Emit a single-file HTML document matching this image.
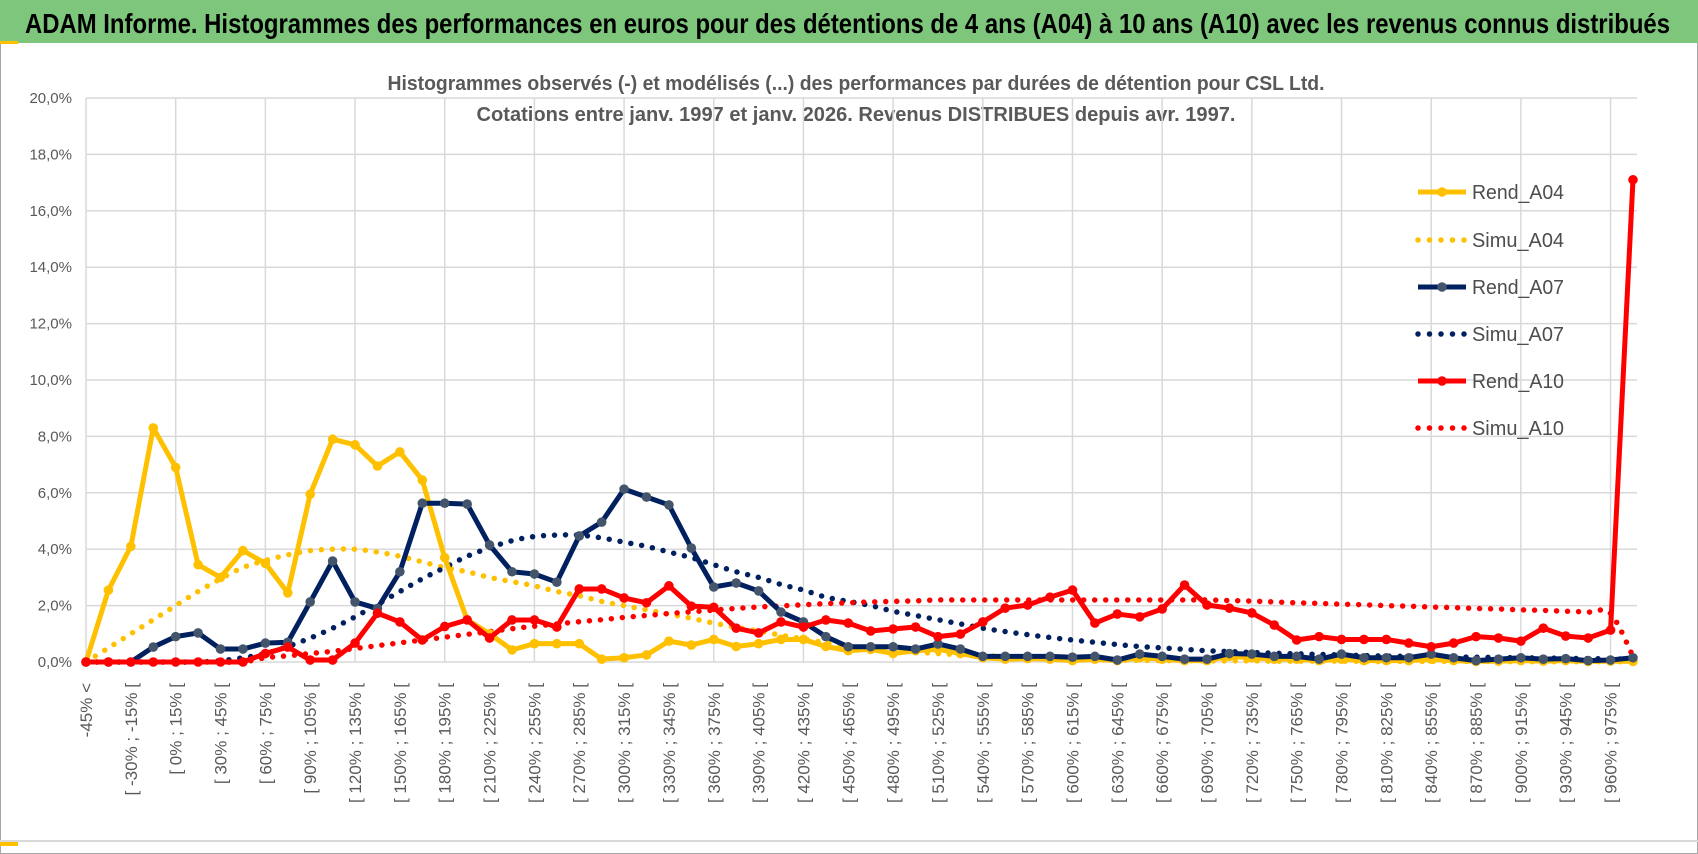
<!DOCTYPE html>
<html><head><meta charset="utf-8">
<style>
html,body{margin:0;padding:0;background:#fff;}
svg{display:block;font-family:"Liberation Sans",sans-serif;}
</style></head>
<body>
<svg id="chart" width="1698" height="854" viewBox="0 0 1698 854" xmlns="http://www.w3.org/2000/svg">
  <rect x="0" y="0" width="1698" height="854" fill="#fff"/>
  <rect x="0.5" y="0.5" width="1697" height="853" fill="none" stroke="#a6a6a6"/>
  <rect x="0" y="0" width="1698" height="43" fill="#7dc67c"/>
  <rect x="0" y="41" width="18" height="3" fill="#ffc000"/>
  <text x="25" y="33" font-size="28" font-weight="bold" fill="#000" textLength="1645" lengthAdjust="spacingAndGlyphs">ADAM Informe. Histogrammes des performances en euros pour des détentions de 4 ans (A04) à 10 ans (A10) avec les revenus connus distribués</text>
  <line x1="0" y1="841" x2="1698" y2="841" stroke="#d9d9d9" stroke-width="2"/>
  <rect x="0" y="842" width="18" height="4" fill="#ffc000"/>
  <text x="856" y="90" font-size="20" font-weight="bold" fill="#595959" text-anchor="middle" textLength="937" lengthAdjust="spacingAndGlyphs">Histogrammes observés (-) et modélisés (...) des performances par durées de détention pour CSL Ltd.</text>
  <text x="856" y="121" font-size="20" font-weight="bold" fill="#595959" text-anchor="middle" textLength="759" lengthAdjust="spacingAndGlyphs">Cotations entre janv. 1997 et janv. 2026. Revenus DISTRIBUES depuis avr. 1997.</text>
  <g id="grid"></g>
  <g id="axes"></g>
  <g id="series"></g>
  <g id="legend"></g>
</svg>
<script>
const rendA04 = [0,2.55,4.1,8.3,6.9,3.45,3.0,3.95,3.5,2.45,5.95,7.9,7.7,6.95,7.45,6.45,3.7,1.5,1.0,0.43,0.65,0.65,0.65,0.1,0.15,0.25,0.74,0.6,0.8,0.55,0.65,0.8,0.8,0.55,0.4,0.45,0.3,0.4,0.45,0.3,0.15,0.1,0.12,0.1,0.05,0.1,0.05,0.15,0.1,0.05,0.05,0.2,0.15,0.1,0.1,0.05,0.1,0.05,0.05,0.05,0.1,0.05,0.02,0.03,0.05,0.03,0.05,0.02,0.03,0.02];
const rendA07 = [0,0,0,0.53,0.9,1.03,0.46,0.46,0.67,0.7,2.13,3.58,2.13,1.9,3.2,5.63,5.63,5.6,4.15,3.2,3.12,2.83,4.47,4.96,6.13,5.85,5.57,4.04,2.66,2.8,2.52,1.77,1.42,0.9,0.54,0.54,0.54,0.46,0.64,0.46,0.2,0.2,0.2,0.2,0.17,0.2,0.07,0.28,0.2,0.1,0.1,0.3,0.28,0.2,0.2,0.1,0.28,0.15,0.15,0.15,0.28,0.15,0.05,0.1,0.15,0.1,0.12,0.05,0.07,0.15];
const rendA10 = [0,0,0,0,0,0,0,0,0.3,0.53,0.07,0.07,0.67,1.73,1.42,0.78,1.26,1.49,0.85,1.49,1.49,1.24,2.59,2.59,2.27,2.1,2.7,1.98,1.94,1.2,1.03,1.42,1.24,1.49,1.38,1.1,1.17,1.24,0.9,0.99,1.42,1.91,2.02,2.3,2.55,1.38,1.7,1.6,1.88,2.73,2.02,1.91,1.74,1.31,0.78,0.9,0.8,0.8,0.8,0.67,0.54,0.67,0.9,0.85,0.74,1.2,0.92,0.85,1.13,17.1];
const simuA04 = [0,0.5,1.0,1.5,2.0,2.5,2.95,3.35,3.6,3.8,3.95,4.0,4.0,3.9,3.75,3.55,3.35,3.2,3.0,2.85,2.7,2.5,2.35,2.15,2.0,1.85,1.7,1.55,1.38,1.23,1.1,0.95,0.82,0.68,0.58,0.48,0.4,0.35,0.3,0.26,0.23,0.19,0.15,0.12,0.1,0.08,0.07,0.06,0.05,0.05,0.04,0.04,0.04,0.03,0.03,0.03,0.03,0.02,0.02,0.02,0.02,0.02,0.02,0.02,0.01,0.01,0.01,0.01,0.01,0.01];
const simuA07 = [0,0,0,0,0,0,0.05,0.15,0.3,0.55,0.85,1.2,1.6,2.05,2.5,2.95,3.35,3.75,4.05,4.3,4.45,4.5,4.5,4.4,4.25,4.1,3.9,3.7,3.45,3.2,3.0,2.75,2.55,2.3,2.15,2.0,1.8,1.65,1.5,1.35,1.2,1.08,0.97,0.87,0.78,0.7,0.62,0.55,0.5,0.45,0.4,0.37,0.34,0.31,0.29,0.27,0.25,0.23,0.21,0.2,0.19,0.18,0.17,0.16,0.15,0.14,0.13,0.12,0.11,0.1];
const simuA10 = [0,0,0,0,0,0,0,0,0.15,0.22,0.3,0.38,0.48,0.58,0.68,0.78,0.88,0.98,1.08,1.18,1.27,1.35,1.43,1.5,1.58,1.65,1.72,1.78,1.84,1.9,1.95,1.99,2.03,2.07,2.1,2.13,2.15,2.17,2.2,2.2,2.2,2.2,2.2,2.2,2.2,2.2,2.2,2.2,2.2,2.2,2.2,2.18,2.16,2.13,2.1,2.08,2.05,2.03,2.0,1.98,1.95,1.93,1.9,1.88,1.85,1.83,1.8,1.77,1.72,0.2];
const yTicks = [0,2,4,6,8,10,12,14,16,18,20];
const seriesNames = ["Rend_A04","Simu_A04","Rend_A07","Simu_A07","Rend_A10","Simu_A10"];

const categories = ["-45% <"];
for (let a = -45; a < 990; a += 15) categories.push("[ " + a + "% ; " + (a + 15) + "% [");
categories.length = rendA04.length;

const NS = "http://www.w3.org/2000/svg";
const X0 = 86, DX = 22.42, Y0 = 662, YPX = 28.2;
const xs = i => X0 + i * DX;
const ys = v => Y0 - v * YPX;
function mk(tag, attrs, parent) {
  const e = document.createElementNS(NS, tag);
  for (const k in attrs) e.setAttribute(k, attrs[k]);
  parent.appendChild(e);
  return e;
}
const grid = document.getElementById('grid');
const axes = document.getElementById('axes');
const ser = document.getElementById('series');
const leg = document.getElementById('legend');
const xEnd = 1637;

yTicks.forEach(t => {
  const l = mk('line', {x1: X0, x2: xEnd, y1: ys(t), y2: ys(t), stroke: '#d9d9d9', 'stroke-width': 1.5}, grid);
  
  
  const tx = mk('text', {x: 72, y: ys(t) + 5, 'font-size': 15, fill: '#595959', 'text-anchor': 'end'}, axes);
  tx.textContent = t.toFixed(1).replace('.', ',') + '%';
  
  
});
for (let i = 0; i < categories.length; i += 4) {
  const l = mk('line', {x1: xs(i), x2: xs(i), y1: ys(20), y2: Y0, stroke: '#d9d9d9', 'stroke-width': 1.5}, grid);
  
  
}
for (let i = 0; i < categories.length; i += 2) {
  const tx = mk('text', {x: 0, y: 0, 'font-size': 17, fill: '#595959', 'text-anchor': 'end',
    transform: 'translate(' + (xs(i) + 6) + ',683) rotate(-90)'}, axes);
  tx.textContent = categories[i];
  
  
}

function smoothPath(vals) {
  const p = vals.map((v, i) => [xs(i), ys(v)]);
  let d = 'M' + p[0][0] + ',' + p[0][1];
  for (let i = 0; i < p.length - 1; i++) {
    const p0 = p[i - 1] || p[i], p1 = p[i], p2 = p[i + 1], p3 = p[i + 2] || p2;
    const c1 = [p1[0] + (p2[0] - p0[0]) / 6, p1[1] + (p2[1] - p0[1]) / 6];
    const c2 = [p2[0] - (p3[0] - p1[0]) / 6, p2[1] - (p3[1] - p1[1]) / 6];
    d += ' C' + c1[0] + ',' + c1[1] + ' ' + c2[0] + ',' + c2[1] + ' ' + p2[0] + ',' + p2[1];
  }
  return d;
}
function drawSimu(vals, color, name) {
  const p = mk('path', {d: smoothPath(vals), fill: 'none', stroke: color, 'stroke-width': 5.5,
    'stroke-linecap': 'round', 'stroke-dasharray': '0 11'}, ser);
  
  
}
function drawRend(vals, color, mcolor, name) {
  const pts = vals.map((v, i) => xs(i) + ',' + ys(v)).join(' ');
  const pl = mk('polyline', {points: pts, fill: 'none', stroke: color, 'stroke-width': 5, 'stroke-linejoin': 'round'}, ser);
  
  
  vals.forEach((v, i) => {
    const c = mk('circle', {cx: xs(i), cy: ys(v), r: 4.8, fill: mcolor}, ser);
    
    
  });
}
drawSimu(simuA04, '#ffc000', 'simu-a04-line');
drawSimu(simuA07, '#002060', 'simu-a07-line');
drawSimu(simuA10, '#ff0000', 'simu-a10-line');
drawRend(rendA04, '#ffc000', '#ffc000', 'rend-a04-line');
drawRend(rendA07, '#002060', '#44546a', 'rend-a07-line');
drawRend(rendA10, '#ff0000', '#ff0000', 'rend-a10-line');

const legColors = ['#ffc000','#ffc000','#002060','#002060','#ff0000','#ff0000'];
const legMarker = ['#ffc000',null,'#44546a',null,'#ff0000',null];
const legY = [192,240,287,334,381,428];
seriesNames.forEach((n, k) => {
  const y = legY[k];
  const g = mk('g', {}, leg);
  
  
  if (legMarker[k]) {
    mk('line', {x1: 1418, x2: 1466, y1: y, y2: y, stroke: legColors[k], 'stroke-width': 5}, g);
    mk('circle', {cx: 1442, cy: y, r: 4.8, fill: legMarker[k]}, g);
  } else {
    mk('line', {x1: 1418, x2: 1466, y1: y, y2: y, stroke: legColors[k], 'stroke-width': 5.5,
      'stroke-linecap': 'round', 'stroke-dasharray': '0 11.5'}, g);
  }
  const t = mk('text', {x: 1472, y: y + 7, 'font-size': 20, fill: '#4d4d4d', textLength: 92, lengthAdjust: 'spacingAndGlyphs'}, g);
  t.textContent = n;
});
</script>
</body></html>
